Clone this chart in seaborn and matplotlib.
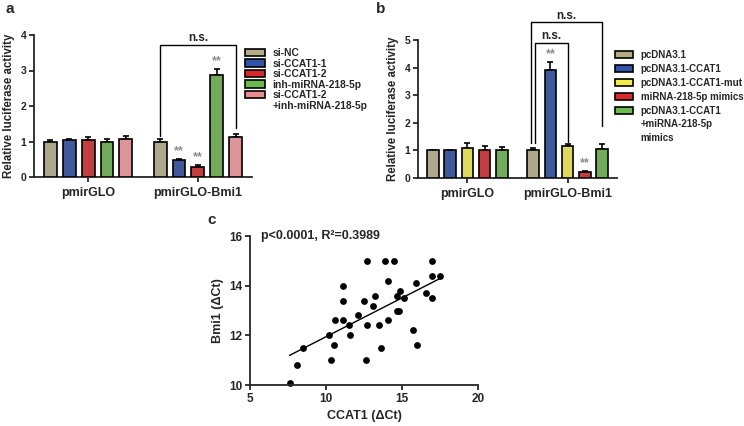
"""Luciferase reporter bars (a, b) and CCAT1 vs Bmi1 correlation (c)."""

import matplotlib

matplotlib.use("Agg")

import matplotlib.pyplot as plt
import numpy as np
import pandas as pd
import seaborn as sns
from matplotlib.patches import Patch

GROUPS = ["pmirGLO", "pmirGLO-Bmi1"]

# panel a
A_CONDITIONS = ["si-NC", "si-CCAT1-1", "si-CCAT1-2", "inh-miRNA-218-5p",
                "si-CCAT1-2\n+inh-miRNA-218-5p"]
A_COLORS = ["#b3aa86", "#3153a8", "#d9282c", "#6cba4c", "#e88a8e"]
A_MEAN_PMIRGLO = [1.00, 1.04, 1.05, 1.00, 1.08]
A_ERR_PMIRGLO = [0.03, 0.04, 0.07, 0.08, 0.07]
A_MEAN_BMI1 = [1.00, 0.47, 0.27, 2.87, 1.12]
A_ERR_BMI1 = [0.08, 0.05, 0.07, 0.18, 0.08]
A_STARS_BMI1 = ["", "**", "**", "**", ""]

# panel b
B_CONDITIONS = ["pcDNA3.1", "pcDNA3.1-CCAT1", "pcDNA3.1-CCAT1-mut",
                "miRNA-218-5p mimics", "pcDNA3.1-CCAT1\n+miRNA-218-5p\nmimics"]
B_COLORS = ["#b3aa86", "#3153a8", "#f3ec48", "#d9282c", "#6cba4c"]
B_MEAN_PMIRGLO = [1.00, 1.00, 1.10, 1.03, 1.03]
B_ERR_PMIRGLO = [0.03, 0.03, 0.18, 0.12, 0.10]
B_MEAN_BMI1 = [1.00, 3.93, 1.17, 0.22, 1.05]
B_ERR_BMI1 = [0.07, 0.28, 0.08, 0.05, 0.18]
B_STARS_BMI1 = ["", "**", "", "**", ""]

# panel c
CCAT1_DCT = [7.6, 8.1, 8.5, 10.2, 10.3, 10.5, 10.6, 11.1, 11.1, 11.1, 11.5, 11.6,
             12.1, 12.5, 12.6, 12.7, 12.7, 13.1, 13.2, 13.5, 13.6, 13.9, 14.1, 14.1,
             14.5, 14.7, 14.7, 14.8, 14.9, 15.1, 15.7, 15.9, 16.0, 16.6, 17.0, 17.0,
             17.0, 17.5]
BMI1_DCT = [10.1, 10.8, 11.5, 12.0, 11.0, 11.6, 12.6, 14.0, 13.4, 12.6, 12.4, 12.0,
            12.8, 13.4, 11.0, 12.4, 15.0, 13.2, 13.6, 12.4, 11.5, 15.0, 12.6, 14.2,
            15.0, 13.6, 13.0, 13.0, 13.8, 13.5, 12.2, 14.1, 11.6, 13.7, 15.0, 14.4,
            13.5, 14.4]

W, H = 744, 426


def px_box(left, top, right, bottom):
    """Axes rect in figure fractions from pixel edges."""
    return [left / W, 1 - bottom / H, (right - left) / W, (bottom - top) / H]


def style_axis(ax):
    sns.despine(ax=ax)
    for side in ("left", "bottom"):
        ax.spines[side].set_linewidth(1.3)
    ax.tick_params(width=1.3, length=3.5, labelsize=7.5, pad=2)


def bar_panel(ax, conditions, colors, mean_a, err_a, mean_b, err_b, stars):
    df = pd.DataFrame({
        "group": np.repeat(GROUPS, len(conditions)),
        "condition": conditions * 2,
        "value": mean_a + mean_b,
        "err": err_a + err_b,
        "stars": [""] * len(conditions) + stars,
    })
    sns.barplot(data=df, x="group", y="value", hue="condition", hue_order=conditions,
                palette=colors, width=0.86, gap=0.32, edgecolor="black", linewidth=1.2,
                errorbar=None, legend=False, ax=ax, zorder=3)
    bars = sorted(ax.patches, key=lambda p: p.get_x())
    df["x"] = [b.get_x() + b.get_width() / 2 for b in bars]
    ax.errorbar(df["x"], df["value"], yerr=[np.zeros(len(df)), df["err"]], fmt="none",
                ecolor="black", elinewidth=1.2, capsize=2.5, capthick=1.2, zorder=2)
    for _, row in df[df["stars"] != ""].iterrows():
        ax.text(row["x"], row["value"] + row["err"] + 0.05, row["stars"], ha="center",
                va="bottom", fontsize=9, color="#8c8c8c")
    ax.set_xlabel("")
    ax.set_ylabel("Relative luciferase activity", fontsize=8.3)
    style_axis(ax)
    ax.tick_params(axis="x", labelsize=9, pad=4)
    return df


def bracket(ax, x1, x2, y1, y2, top, label):
    ax.plot([x1, x1, x2, x2], [y1, top, top, y2], color="black", lw=1, clip_on=False)
    ax.text((x1 + x2) / 2, top + 0.004 * ax.get_ylim()[1], label, ha="center", va="bottom",
            fontsize=8.5, clip_on=False)


def add_legend(fig, conditions, colors, left, top, fontsize, spacing):
    # continuation lines get an empty handle so the box sits on the first line
    handles, labels = [], []
    for c, l in zip(colors, conditions):
        first, *rest = l.split("\n")
        handles.append(Patch(facecolor=c, edgecolor="black", linewidth=1.2))
        labels.append(first)
        for line in rest:
            handles.append(Patch(facecolor="none", edgecolor="none"))
            labels.append(line)
    fig.legend(handles=handles, labels=labels, loc="upper left",
               bbox_to_anchor=(left / W, 1 - top / H),
               frameon=False, fontsize=fontsize, handlelength=1.9, handleheight=0.75,
               handletextpad=0.75, labelspacing=spacing, borderpad=0, borderaxespad=0)


sns.set_theme(style="ticks")
plt.rcParams["font.family"] = ["Liberation Sans", "DejaVu Sans"]
plt.rcParams["font.weight"] = "bold"
plt.rcParams["axes.labelweight"] = "bold"

fig = plt.figure(figsize=(W / 100, H / 100), dpi=100)

# a
ax_a = fig.add_axes(px_box(34, 35, 252, 177))
df_a = bar_panel(ax_a, A_CONDITIONS, A_COLORS, A_MEAN_PMIRGLO, A_ERR_PMIRGLO,
                 A_MEAN_BMI1, A_ERR_BMI1, A_STARS_BMI1)
ax_a.set_ylim(0, 4)
ax_a.set_yticks([0, 1, 2, 3, 4])
xa = df_a["x"].to_numpy()
bracket(ax_a, xa[5], xa[9], 1.15, 1.38, 3.72, "n.s.")
add_legend(fig, A_CONDITIONS, A_COLORS, 245, 48, 7.4, 0.05)

# b
ax_b = fig.add_axes(px_box(418, 40, 617, 178))
df_b = bar_panel(ax_b, B_CONDITIONS, B_COLORS, B_MEAN_PMIRGLO, B_ERR_PMIRGLO,
                 B_MEAN_BMI1, B_ERR_BMI1, B_STARS_BMI1)
ax_b.set_ylim(0, 5)
ax_b.set_yticks([0, 1, 2, 3, 4, 5])
xb = df_b["x"].to_numpy()
bracket(ax_b, xb[5] - 0.02, xb[9], 1.27, 1.9, 5.65, "n.s.")
bracket(ax_b, xb[5] + 0.02, xb[7], 1.27, 1.3, 4.9, "n.s.")
add_legend(fig, B_CONDITIONS, B_COLORS, 615, 50, 7, 0.4)

# c
ax_c = fig.add_axes(px_box(250, 236, 478, 385))
df_c = pd.DataFrame({"CCAT1": CCAT1_DCT, "Bmi1": BMI1_DCT})
sns.regplot(data=df_c, x="CCAT1", y="Bmi1", ci=None, truncate=True, ax=ax_c,
            scatter_kws=dict(s=24, color="black", linewidths=0, alpha=1, clip_on=False),
            line_kws=dict(color="black", lw=1))
ax_c.set_xlim(5, 20)
ax_c.set_ylim(10, 16)
ax_c.set_xticks([5, 10, 15, 20])
ax_c.set_yticks([10, 12, 14, 16])
ax_c.set_xlabel("CCAT1 (ΔCt)", fontsize=9)
ax_c.set_ylabel("Bmi1 (ΔCt)", fontsize=9)
style_axis(ax_c)
ax_c.tick_params(labelsize=8.5)
ax_c.text(0.05, 1.0, "p<0.0001, R²=0.3989", transform=ax_c.transAxes, ha="left",
          va="center", fontsize=9)

fig.text(5 / W, 1 - 9 / H, "a", fontsize=11, va="center")
fig.text(376 / W, 1 - 9 / H, "b", fontsize=11, va="center")
fig.text(207 / W, 1 - 220 / H, "c", fontsize=11, va="center")

fig.savefig("out.png", dpi=100)
